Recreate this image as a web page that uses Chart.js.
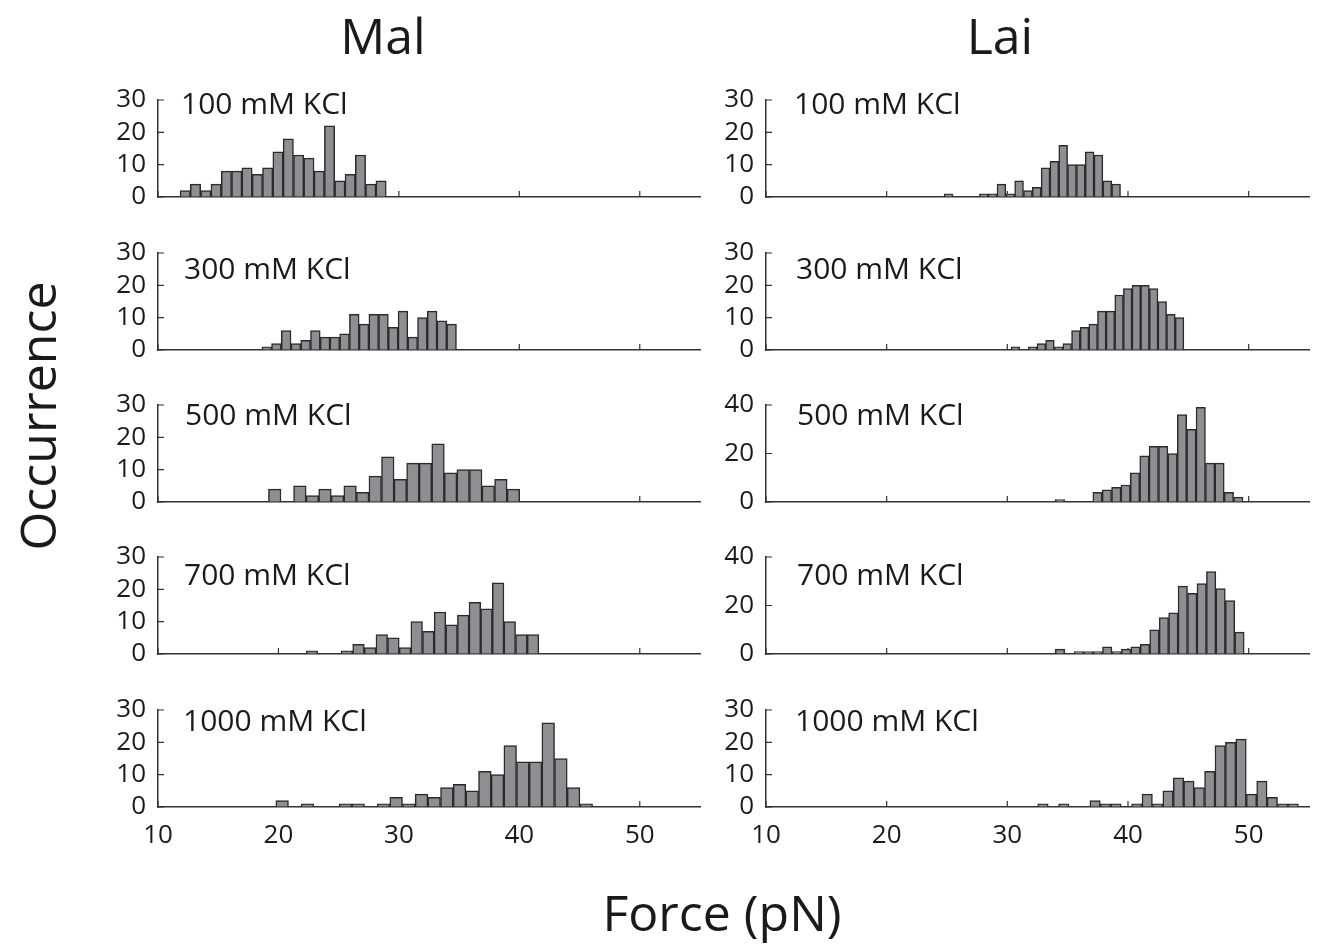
<!DOCTYPE html>
<html>
<head>
<meta charset="utf-8">
<script src="https://cdn.jsdelivr.net/npm/chart.js@4"></script>
<style>
  body { margin: 0; background: #fff; }
  #figure { position: relative; width: 1320px; height: 945px; overflow: hidden; font-family: "Open Sans", sans-serif; color: #1a1a1a; }
  #figure canvas { position: absolute; }
  .txt { position: absolute; white-space: nowrap; line-height: 1; }
  .title { font-size: 50px; transform: translate(-50%, -50%); }
  .ylab { font-size: 50px; transform: translate(-50%, -50%) rotate(-90deg); }
  .panel-label { font-size: 30px; transform: translateY(-50%); }
</style>
</head>
<body>
<div id="figure"></div>
<script>
// rupture force histograms, Mal (left) and Lai (right), one row per salt concentration
const salts = ['100 mM KCl', '300 mM KCl', '500 mM KCl', '700 mM KCl', '1000 mM KCl'];
const forceTicks = [10, 20, 30, 40, 50];
const countTicks30 = [0, 10, 20, 30];
const countTicks40 = [0, 20, 40];

// left edge of first bin and bin width (pN) for each salt
const malBinStart = [11.83, 18.62, 19.17, 22.30, 19.78];
const malBinWidth = [0.856, 0.808, 1.043, 0.966, 1.052];
const laiBinStart = [24.76, 30.31, 33.97, 33.97, 32.52];
const laiBinWidth = [0.731, 0.716, 0.778, 0.783, 0.864];

const mal100 = [2, 4, 2, 4, 8, 8, 9, 7, 9, 14, 18, 13, 12, 8, 22, 5, 7, 13, 4, 5];
const mal300 = [1, 2, 6, 2, 3, 6, 4, 4, 5, 11, 8, 11, 11, 7, 12, 4, 10, 12, 9, 8];
const mal500 = [4, 0, 5, 2, 4, 2, 5, 3, 8, 14, 7, 12, 12, 18, 9, 10, 10, 5, 7, 4];
const mal700 = [1, 0, 0, 1, 3, 2, 6, 5, 2, 10, 7, 13, 9, 12, 16, 14, 22, 10, 6, 6];
const mal1000 = [2, 0, 1, 0, 0, 1, 1, 0, 1, 3, 1, 4, 3, 6, 7, 5, 11, 10, 19, 14, 14, 26, 15, 6, 1];

const lai100 = [1, 0, 0, 0, 1, 1, 4, 1, 5, 2, 3, 9, 11, 16, 10, 10, 14, 13, 5, 4];
const lai300 = [1, 0, 1, 2, 3, 1, 2, 6, 7, 8, 12, 12, 17, 19, 20, 20, 19, 15, 11, 10];
const lai500 = [1, 0, 0, 0, 4, 5, 6, 7, 12, 19, 23, 23, 20, 36, 30, 39, 16, 16, 4, 2];
const lai700 = [2, 0, 1, 1, 1, 3, 1, 2, 3, 4, 10, 15, 17, 28, 25, 29, 34, 27, 22, 9];
const lai1000 = [1, 0, 1, 0, 0, 2, 1, 1, 0, 1, 4, 1, 5, 9, 8, 6, 11, 19, 20, 21, 4, 8, 3, 1, 1];

const malCounts = [mal100, mal300, mal500, mal700, mal1000];
const laiCounts = [lai100, lai300, lai500, lai700, lai1000];
const laiYTicks = [countTicks30, countTicks30, countTicks40, countTicks40, countTicks30];

// page layout
const colLeft = [158, 766];
const colWidth = [542, 543];
const rowBottom = [197, 350, 502, 654, 807];
const plotH = 97;
const labelLeft = [[181, 184, 185, 184, 183], [794, 796, 797, 797, 795]];
const labelY = [103, 268, 414, 574, 720];

const axisColor = '#333';
const barFill = '#8d8f93';
const barEdge = '#2b2b2b';
const tickFont = { family: '"Open Sans", sans-serif', size: 26 };

const fig = document.getElementById('figure');

function addText(cls, text, x, y) {
  const d = document.createElement('div');
  d.className = 'txt ' + cls;
  d.textContent = text;
  d.style.left = x + 'px';
  d.style.top = y + 'px';
  fig.appendChild(d);
}

// small ticks pointing into the plot, drawn under the bars
const inwardTicks = {
  id: 'inwardTicks',
  beforeDatasetsDraw(chart) {
    const { ctx, chartArea: a, scales: { x, y } } = chart;
    ctx.save();
    ctx.strokeStyle = axisColor;
    ctx.lineWidth = 1.2;
    ctx.beginPath();
    x.ticks.forEach(t => {
      const px = x.getPixelForValue(t.value);
      ctx.moveTo(px, a.bottom);
      ctx.lineTo(px, a.bottom - 6);
    });
    y.ticks.forEach(t => {
      const py = y.getPixelForValue(t.value);
      ctx.moveTo(a.left, py);
      ctx.lineTo(a.left + 6, py);
    });
    ctx.stroke();
    ctx.restore();
  }
};

function drawPanel(col, row, start, width, counts, yTicks) {
  const yAxisW = 70, padTop = 16, padRight = 14;
  const xAxisH = row === 4 ? 52 : 18;
  const w = yAxisW + colWidth[col] + padRight;
  const h = padTop + plotH + xAxisH;

  const canvas = document.createElement('canvas');
  canvas.width = w;
  canvas.height = h;
  canvas.style.left = (colLeft[col] - yAxisW) + 'px';
  canvas.style.top = (rowBottom[row] - plotH - padTop) + 'px';
  canvas.style.width = w + 'px';
  canvas.style.height = h + 'px';
  fig.appendChild(canvas);

  const points = counts.map((c, i) => ({ x: start + (i + 0.5) * width, y: c }));

  new Chart(canvas, {
    type: 'bar',
    data: {
      datasets: [{
        data: points,
        backgroundColor: barFill,
        borderColor: barEdge,
        borderWidth: 1.5,
        barPercentage: 1,
        categoryPercentage: 1
      }]
    },
    options: {
      responsive: false,
      animation: false,
      devicePixelRatio: 1,
      layout: { padding: { top: padTop, right: padRight, left: 0, bottom: 0 } },
      plugins: { legend: { display: false }, tooltip: { enabled: false } },
      scales: {
        x: {
          type: 'linear', min: 10, max: 55, offset: false,
          afterBuildTicks: s => { s.ticks = forceTicks.map(v => ({ value: v })); },
          afterFit: s => { s.height = xAxisH; s.paddingLeft = 0; s.paddingRight = 0; },
          grid: { display: true, drawOnChartArea: false, drawTicks: false, offset: false },
          border: { display: true, color: axisColor, width: 1.5 },
          ticks: { display: row === 4, font: tickFont, color: '#1a1a1a', padding: 13, maxRotation: 0, autoSkip: false }
        },
        y: {
          min: 0, max: yTicks[yTicks.length - 1],
          afterBuildTicks: s => { s.ticks = yTicks.map(v => ({ value: v })); },
          afterFit: s => { s.width = yAxisW; s.paddingTop = 0; s.paddingBottom = 0; },
          grid: { display: true, drawOnChartArea: false, drawTicks: false },
          border: { display: true, color: axisColor, width: 1.5 },
          ticks: { font: tickFont, color: '#1a1a1a', padding: 12, autoSkip: false }
        }
      }
    },
    plugins: [inwardTicks]
  });

  addText('panel-label', salts[row], labelLeft[col][row], labelY[row]);
}

for (let r = 0; r < 5; r++) {
  drawPanel(0, r, malBinStart[r], malBinWidth[r], malCounts[r], countTicks30);
  drawPanel(1, r, laiBinStart[r], laiBinWidth[r], laiCounts[r], laiYTicks[r]);
}

addText('title', 'Mal', 383, 35);
addText('title', 'Lai', 1000, 35);
addText('ylab', 'Occurrence', 37, 416);
addText('title', 'Force (pN)', 722, 912);
</script>
</body>
</html>
